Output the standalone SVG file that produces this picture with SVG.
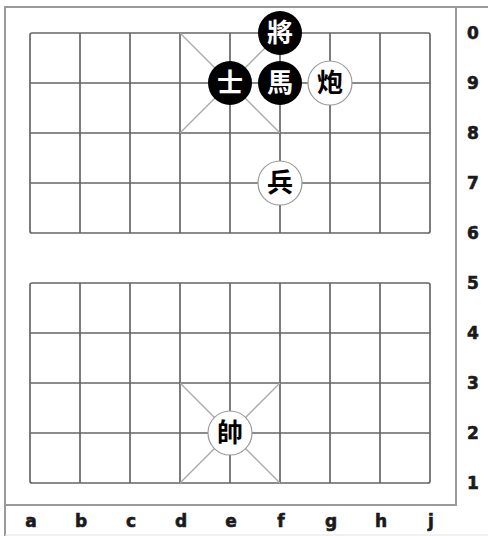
<svg xmlns="http://www.w3.org/2000/svg" width="488" height="536" viewBox="0 0 488 536">
<style>
.frame{stroke:#9a9a9a;stroke-width:2;fill:none}
.grid{stroke:#666;stroke-width:1.7;fill:none}
.diag{stroke:#a8a8a8;stroke-width:1.3;fill:none}
.lbl{font-family:"DejaVu Sans","Liberation Sans",sans-serif;font-weight:bold;font-size:17px;fill:#1a1a1a;stroke:#1a1a1a;stroke-width:0.6;text-anchor:middle}
.pc-b circle{fill:#000}
.pc-w circle{fill:#fff;stroke:#9a9a9a;stroke-width:1.2}
.pc-b text{fill:#fff}
.pc-w text{fill:#000}
.pc text{font-family:"Noto Sans CJK TC","Noto Sans CJK SC",sans-serif;font-weight:bold;font-size:26px;text-anchor:middle}
</style>
<rect width="488" height="536" fill="#fff"/>
<g id="frame">
<line class="frame" x1="5" y1="7" x2="488" y2="7"/>
<line class="frame" x1="5" y1="6" x2="5" y2="536"/>
<line class="frame" x1="5" y1="505" x2="456" y2="505"/>
<line class="frame" x1="456" y1="7" x2="456" y2="506"/>
<line x1="5" y1="535" x2="488" y2="535" stroke="#e2e2e2" stroke-width="1"/>
</g>
<g id="board">
<rect class="grid" x="30" y="33" width="400" height="200" rx="2"/>
<rect class="grid" x="30" y="283" width="400" height="200" rx="2"/>
<path class="grid" d="M30 83H430M30 133H430M30 183H430M30 333H430M30 383H430M30 433H430
M80 33V233M130 33V233M180 33V233M230 33V233M280 33V233M330 33V233M380 33V233
M80 283V483M130 283V483M180 283V483M230 283V483M280 283V483M330 283V483M380 283V483"/>
<path class="diag" d="M180 33L280 133M280 33L180 133M180 383L280 483M280 383L180 483"/>
</g>
<g id="labels">
<text class="lbl" x="473" y="39">0</text>
<text class="lbl" x="473" y="89">9</text>
<text class="lbl" x="473" y="139">8</text>
<text class="lbl" x="473" y="189">7</text>
<text class="lbl" x="473" y="239">6</text>
<text class="lbl" x="473" y="289">5</text>
<text class="lbl" x="473" y="339">4</text>
<text class="lbl" x="473" y="389">3</text>
<text class="lbl" x="473" y="439">2</text>
<text class="lbl" x="473" y="489">1</text>
<text class="lbl" x="31" y="527">a</text>
<text class="lbl" x="81" y="527">b</text>
<text class="lbl" x="131" y="527">c</text>
<text class="lbl" x="181" y="527">d</text>
<text class="lbl" x="231" y="527">e</text>
<text class="lbl" x="281" y="527">f</text>
<text class="lbl" x="331" y="527">g</text>
<text class="lbl" x="381" y="527">h</text>
<text class="lbl" x="431" y="527">j</text>
</g>
<g id="piece-jiang" class="pc pc-b"><circle cx="280" cy="33" r="22"/><text x="280" y="42">將</text></g>
<g id="piece-shi" class="pc pc-b"><circle cx="230" cy="83" r="22"/><text x="230" y="92">士</text></g>
<g id="piece-ma" class="pc pc-b"><circle cx="280" cy="83" r="22"/><text x="280" y="92">馬</text></g>
<g id="piece-pao" class="pc pc-w"><circle cx="330" cy="83" r="22"/><text x="330" y="92">炮</text></g>
<g id="piece-bing" class="pc pc-w"><circle cx="280" cy="183" r="22"/><text x="280" y="192">兵</text></g>
<g id="piece-shuai" class="pc pc-w"><circle cx="230" cy="433" r="22"/><text x="230" y="442">帥</text></g>
</svg>
